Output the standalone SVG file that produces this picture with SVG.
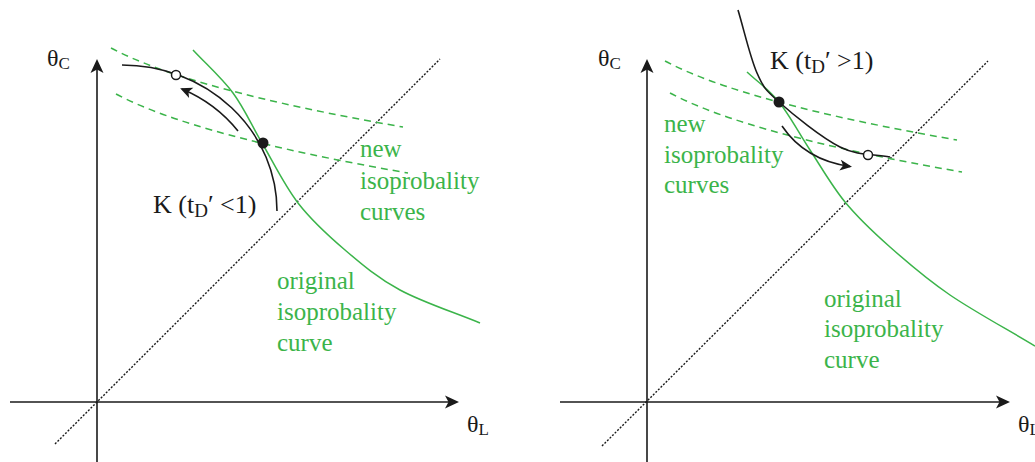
<svg xmlns="http://www.w3.org/2000/svg" width="1035" height="462" viewBox="0 0 1035 462">
  <style>
    .axis { stroke: #1a1a1a; stroke-width: 1.6; fill: none; }
    .diag { stroke: #1a1a1a; stroke-width: 1.4; fill: none; stroke-dasharray: 2 1.6; }
    .orig { stroke: #3bb44a; stroke-width: 1.5; fill: none; }
    .newc { stroke: #3bb44a; stroke-width: 1.5; fill: none; stroke-dasharray: 7 5; }
    .kcur { stroke: #1a1a1a; stroke-width: 1.6; fill: none; }
    text { font-family: 'Liberation Serif', 'DejaVu Serif', serif; }
    .lbl { fill: #1a1a1a; }
    .glbl { fill: #3bb44a; }
    .dot { fill: #1a1a1a; }
    .odot { fill: #ffffff; stroke: #1a1a1a; stroke-width: 1.5; }
  </style>
  <defs>
    <marker id="ah" viewBox="-12 -7 16 14" markerWidth="16" markerHeight="14" refX="0" refY="0" orient="auto" markerUnits="userSpaceOnUse">
      <path d="M3,0 L-11,-6.5 L-7.5,0 L-11,6.5 Z" fill="#1a1a1a"/>
    </marker>
    <marker id="ahs" viewBox="-12 -7 16 14" markerWidth="16" markerHeight="14" refX="0" refY="0" orient="auto" markerUnits="userSpaceOnUse">
      <path d="M2,0 L-10,-5.5 L-7,0 L-10,5.5 Z" fill="#1a1a1a"/>
    </marker>
  </defs>

  <g id="connectors">
    <!-- left panel -->
    <line class="axis" x1="97" y1="462" x2="97" y2="62" marker-end="url(#ah)"/>
    <line class="axis" x1="10" y1="402" x2="456" y2="402" marker-end="url(#ah)"/>
    <line class="diag" x1="55" y1="444" x2="440" y2="59"/>
    <path class="newc" d="M111,48 Q190,90 403,127"/>
    <path class="newc" d="M116,94 Q195,136 408,173"/>
    <path class="orig" d="M193,50 C206.3,64.3 221.5,77.5 233,93 C244.5,108.5 251.2,124.7 262,143 C272.8,161.3 284.2,185.2 298,203 C311.8,220.8 328,235.5 345,250 C362,264.5 377.5,277.8 400,290 C422.5,302.2 453.3,312 480,323"/>
    <path class="kcur" d="M122,65 A155,146 0 0 1 277,211"/>
    <path class="kcur" d="M238,131 A144,135 0 0 0 182,89" marker-end="url(#ahs)"/>

    <!-- right panel -->
    <line class="axis" x1="647" y1="462" x2="647" y2="62" marker-end="url(#ah)"/>
    <line class="axis" x1="560" y1="402" x2="1007" y2="402" marker-end="url(#ah)"/>
    <line class="diag" x1="602" y1="446" x2="988" y2="61"/>
    <path class="newc" d="M665,61 Q744,103 957,140"/>
    <path class="newc" d="M670,93 Q749,135 962,172"/>
    <path class="orig" d="M747,72 C757.7,82 768.5,89 779,102 C789.5,115 799,133.3 810,150 C821,166.7 831.7,185.8 845,202 C858.3,218.2 872.5,231.5 890,247 C907.5,262.5 925.8,278.5 950,295 C974.2,311.5 1006.7,329 1035,346"/>
    <path class="kcur" d="M738,10 C744.3,31 750.2,57.7 757,73 C763.8,88.3 765.2,89.7 779,102 C792.8,114.3 821.5,137.8 840,147 C858.5,156.2 873.3,153.7 890,157"/>
    <path class="kcur" d="M782,126 Q805,160 850,166.5" marker-end="url(#ahs)"/>
  </g>

  <g id="left-axis-labels">
    <text class="lbl" x="47" y="66" font-size="24">θ<tspan font-size="17" dy="3">C</tspan></text>
    <text class="lbl" x="467" y="432" font-size="24">θ<tspan font-size="17" dy="3">L</tspan></text>
  </g>
  <g id="left-points">
    <circle class="odot" cx="176" cy="75" r="4.5"/>
    <circle class="dot" cx="263" cy="143" r="5.5"/>
  </g>
  <g id="left-k-label">
    <text class="lbl" x="153" y="213" font-size="26">K (t<tspan font-size="19" dy="4">D</tspan><tspan dy="-4">′ &lt;1)</tspan></text>
  </g>
  <g id="left-new-label">
    <text class="glbl" x="360" y="157" font-size="25">new</text>
    <text class="glbl" x="360" y="189" font-size="25">isoprobality</text>
    <text class="glbl" x="360" y="220" font-size="25">curves</text>
  </g>
  <g id="left-original-label">
    <text class="glbl" x="277" y="289" font-size="25">original</text>
    <text class="glbl" x="277" y="320" font-size="25">isoprobality</text>
    <text class="glbl" x="277" y="351" font-size="25">curve</text>
  </g>

  <g id="right-axis-labels">
    <text class="lbl" x="598" y="66" font-size="24">θ<tspan font-size="17" dy="3">C</tspan></text>
    <text class="lbl" x="1018" y="432" font-size="24">θ<tspan font-size="17" dy="3">L</tspan></text>
  </g>
  <g id="right-points">
    <circle class="dot" cx="779" cy="102" r="5.5"/>
    <circle class="odot" cx="868" cy="155" r="4.5"/>
  </g>
  <g id="right-k-label">
    <text class="lbl" x="770" y="69" font-size="26">K (t<tspan font-size="19" dy="4">D</tspan><tspan dy="-4">′ &gt;1)</tspan></text>
  </g>
  <g id="right-new-label">
    <text class="glbl" x="664" y="132" font-size="25">new</text>
    <text class="glbl" x="664" y="163" font-size="25">isoprobality</text>
    <text class="glbl" x="664" y="193" font-size="25">curves</text>
  </g>
  <g id="right-original-label">
    <text class="glbl" x="824" y="307" font-size="25">original</text>
    <text class="glbl" x="824" y="337" font-size="25">isoprobality</text>
    <text class="glbl" x="824" y="368" font-size="25">curve</text>
  </g>
</svg>
